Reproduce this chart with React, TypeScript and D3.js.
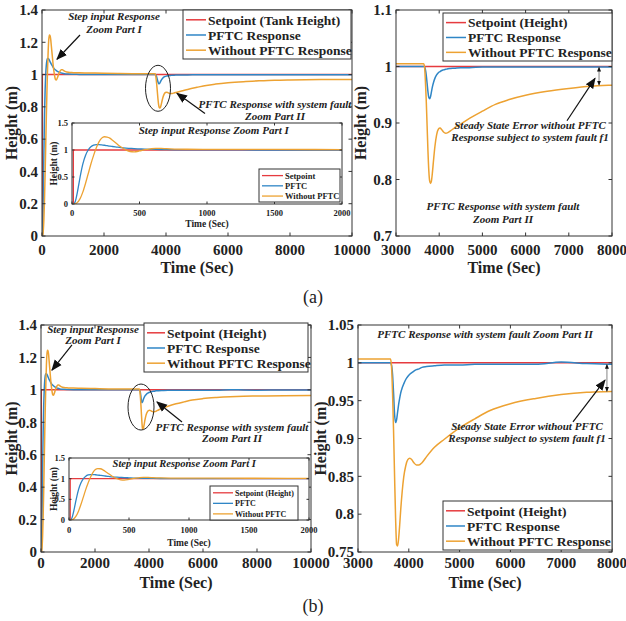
import React from 'react';
import * as d3 from 'd3';

const FONT = "'Liberation Serif', 'Times New Roman', Times, serif";
const RED = '#e63b3f';
const BLUE = '#2f86c6';
const ORANGE = '#eda232';

// start-up response, same in (a) and (b)
const timeStart = [0, 10, 20, 30, 40, 50, 60, 80, 100, 120, 140, 160, 180, 200, 220, 240, 260, 280, 300, 330,
  360, 400, 430, 460, 500, 540, 580, 620, 660, 700, 760, 850, 1000, 1200, 1500, 2000, 2500, 3000, 3500];
const pftcStart = [0, 0, 0.02, 0.1, 0.22, 0.36, 0.5, 0.74, 0.9, 1.0, 1.06, 1.09, 1.1, 1.1, 1.095, 1.088, 1.08, 1.072, 1.065, 1.055,
  1.045, 1.035, 1.03, 1.025, 1.02, 1.015, 1.012, 1.01, 1.008, 1.006, 1.004, 1.003, 1.002, 1.001, 1.0, 1.0, 1.0, 1.0, 1.0];
const noPftcStart = [0, 0, 0, 0.01, 0.03, 0.06, 0.1, 0.22, 0.38, 0.56, 0.74, 0.9, 1.04, 1.15, 1.22, 1.245, 1.24, 1.22, 1.18, 1.12,
  1.06, 1.0, 0.972, 0.966, 0.982, 1.005, 1.02, 1.03, 1.03, 1.024, 1.018, 1.014, 1.012, 1.011, 1.01, 1.008, 1.006, 1.005, 1.005];

// system fault part
const timeFault = [3640, 3660, 3680, 3700, 3720, 3740, 3760, 3780, 3800, 3820, 3840, 3870, 3900, 3940, 3980, 4020, 4060, 4100, 4150, 4200,
  4260, 4350, 4500, 4700, 5000, 5300, 5600, 6000, 6500, 7000, 7500, 8000, 9000, 10000];
const pftcFaultA = [1.0, 1.0, 0.995, 0.985, 0.97, 0.955, 0.945, 0.943, 0.947, 0.955, 0.963, 0.972, 0.979, 0.985, 0.989, 0.991, 0.993, 0.994, 0.995, 0.996,
  0.9965, 0.997, 0.998, 0.998, 0.999, 0.999, 0.999, 0.999, 0.999, 0.999, 0.999, 0.999, 0.999, 0.999];
const noPftcFaultA = [1.005, 1.0, 0.975, 0.94, 0.895, 0.85, 0.815, 0.797, 0.793, 0.797, 0.81, 0.835, 0.858, 0.879, 0.889, 0.891, 0.888, 0.884, 0.882, 0.883,
  0.886, 0.891, 0.898, 0.908, 0.921, 0.933, 0.941, 0.949, 0.956, 0.961, 0.965, 0.967, 0.969, 0.97];
const pftcFaultB = [1.0, 0.997, 0.985, 0.96, 0.932, 0.921, 0.925, 0.935, 0.945, 0.953, 0.96, 0.967, 0.972, 0.978, 0.982, 0.985, 0.987, 0.989, 0.991, 0.992,
  0.994, 0.995, 0.996, 0.997, 0.997, 0.998, 0.998, 0.998, 0.998, 1.001, 0.999, 0.998, 0.999, 0.999];
const noPftcFaultB = [1.005, 0.995, 0.96, 0.91, 0.85, 0.795, 0.76, 0.758, 0.768, 0.785, 0.805, 0.83, 0.849, 0.864, 0.872, 0.874, 0.872, 0.868, 0.865, 0.865,
  0.868, 0.876, 0.888, 0.899, 0.914, 0.926, 0.937, 0.946, 0.953, 0.958, 0.961, 0.962, 0.964, 0.965];

const setTime = [0, 10, 10, 10000];
const setValue = [0, 0, 1, 1];

const mainXTicks = [0, 2000, 4000, 6000, 8000, 10000];
const mainYTicks = [0, 0.2, 0.4, 0.6, 0.8, 1, 1.2, 1.4];
const insetXTicks = [0, 500, 1000, 1500, 2000];
const insetYTicks = [0, 0.5, 1, 1.5];
const zoomXTicks = [3000, 4000, 5000, 6000, 7000, 8000];
const zoomYTicksA = [0.7, 0.8, 0.9, 1, 1.1];
const zoomYTicksB = [0.75, 0.8, 0.85, 0.9, 0.95, 1, 1.05];

const legendTankA = ['Setpoint (Tank Height)', 'PFTC Response', 'Without PFTC Response'];
const legendHeight = ['Setpoint (Height)', 'PFTC Response', 'Without PFTC Response'];
const legendInsetA = ['Setpoint', 'PFTC', 'Without PFTC'];
const legendInsetB = ['Setpoint (Height)', 'PFTC', 'Without PFTC'];
const colors = [RED, BLUE, ORANGE];

const fmt = d3.format('~g');

type Scale = d3.ScaleLinear<number, number>;
type Series = { t: number[]; v: number[]; color: string; step?: boolean };

function seriesFor(pftcFault: number[], noPftcFault: number[]): Series[] {
  return [
    { t: setTime, v: setValue, color: RED, step: true },
    { t: timeStart.concat(timeFault), v: pftcStart.concat(pftcFault), color: BLUE },
    { t: timeStart.concat(timeFault), v: noPftcStart.concat(noPftcFault), color: ORANGE },
  ];
}

const txt = { fontFamily: FONT };

function Axes(p: {
  id: string; x: Scale; y: Scale; xTicks: number[]; yTicks: number[]; lines: Series[];
  fs: number; tickLen: number; lw: number; xGap: number; yGap: number;
  xTitleY: number; yTitleX: number; titleFs: number;
}) {
  const [x0, x1] = p.x.range();
  const [y1, y0] = p.y.range();
  return (
    <g>
      <defs>
        <clipPath id={p.id}>
          <rect x={x0} y={y0} width={x1 - x0} height={y1 - y0} />
        </clipPath>
      </defs>
      <rect x={x0} y={y0} width={x1 - x0} height={y1 - y0} fill="white" />
      <g clipPath={`url(#${p.id})`}>
        {p.lines.map((s, i) => {
          const gen = d3.line<number>()
            .x((_, j) => p.x(s.t[j]))
            .y(d => p.y(d))
            .curve(s.step ? d3.curveLinear : d3.curveMonotoneX);
          return <path key={i} d={gen(s.v) || ''} fill="none" stroke={s.color} strokeWidth={p.lw} />;
        })}
      </g>
      {p.xTicks.map(t => (
        <g key={'x' + t}>
          <line x1={p.x(t)} x2={p.x(t)} y1={y1} y2={y1 - p.tickLen} stroke="#333" />
          <line x1={p.x(t)} x2={p.x(t)} y1={y0} y2={y0 + p.tickLen} stroke="#333" />
          <text style={txt} x={p.x(t)} y={y1 + p.xGap} textAnchor="middle" fontSize={p.fs} fontWeight="bold" fill="#222">{fmt(t)}</text>
        </g>
      ))}
      {p.yTicks.map(t => (
        <g key={'y' + t}>
          <line x1={x0} x2={x0 + p.tickLen} y1={p.y(t)} y2={p.y(t)} stroke="#333" />
          <line x1={x1} x2={x1 - p.tickLen} y1={p.y(t)} y2={p.y(t)} stroke="#333" />
          <text style={txt} x={x0 - p.yGap} y={p.y(t)} dy="0.35em" textAnchor="end" fontSize={p.fs} fontWeight="bold" fill="#222">{fmt(t)}</text>
        </g>
      ))}
      <rect x={x0} y={y0} width={x1 - x0} height={y1 - y0} fill="none" stroke="#333" strokeWidth={1} />
      <text style={txt} x={(x0 + x1) / 2} y={p.xTitleY} textAnchor="middle" fontSize={p.titleFs} fontWeight="bold" fill="#222">Time (Sec)</text>
      <text style={txt} transform={`translate(${p.yTitleX},${(y0 + y1) / 2}) rotate(-90)`} textAnchor="middle" fontSize={p.titleFs} fontWeight="bold" fill="#222">Height (m)</text>
    </g>
  );
}

function Legend(p: { x: number; y: number; w: number; h: number; labels: string[]; fs: number; lineW: number; lw: number }) {
  return (
    <g>
      <rect x={p.x} y={p.y} width={p.w} height={p.h} fill="white" stroke="#333" strokeWidth={1} />
      {p.labels.map((l, i) => {
        const cy = p.y + p.h * (0.2 + 0.31 * i);
        return (
          <g key={l}>
            <line x1={p.x + 3} x2={p.x + 3 + p.lineW} y1={cy} y2={cy} stroke={colors[i]} strokeWidth={p.lw} />
            <text style={txt} x={p.x + 5 + p.lineW} y={cy} dy="0.35em" fontSize={p.fs} fontWeight="bold" fill="#222">{l}</text>
          </g>
        );
      })}
    </g>
  );
}

function Note({ x, y, lines, fs = 11, gap = 12 }: { x: number; y: number; lines: string[]; fs?: number; gap?: number }) {
  return (
    <text style={txt} x={x} y={y} textAnchor="middle" fontSize={fs} fontWeight="bold" fontStyle="italic" fill="#222">
      {lines.map((l, i) => <tspan key={i} x={x} dy={i === 0 ? '0.35em' : gap}>{l}</tspan>)}
    </text>
  );
}

function Arrow({ x1, y1, x2, y2 }: { x1: number; y1: number; x2: number; y2: number }) {
  return <line x1={x1} y1={y1} x2={x2} y2={y2} stroke="#111" strokeWidth={1.2} markerEnd="url(#ah)" />;
}

function DoubleArrow({ x, ya, yb }: { x: number; ya: number; yb: number }) {
  return <line x1={x} x2={x} y1={ya} y2={yb} stroke="#999" strokeWidth={1.2} markerStart="url(#ahs)" markerEnd="url(#ahs)" />;
}

export default function App() {
  const linesA = seriesFor(pftcFaultA, noPftcFaultA);
  const linesB = seriesFor(pftcFaultB, noPftcFaultB);

  // (a)
  const xAL = d3.scaleLinear().domain([0, 10000]).range([42, 352]);
  const yAL = d3.scaleLinear().domain([0, 1.4]).range([236, 10]);
  const xAI = d3.scaleLinear().domain([0, 2000]).range([72, 342]);
  const yAI = d3.scaleLinear().domain([0, 1.5]).range([204, 123]);
  const xAR = d3.scaleLinear().domain([3000, 8000]).range([396, 612]);
  const yAR = d3.scaleLinear().domain([0.7, 1.1]).range([236, 10]);
  // (b)
  const xBL = d3.scaleLinear().domain([0, 10000]).range([41, 311]);
  const yBL = d3.scaleLinear().domain([0, 1.4]).range([552, 325]);
  const xBI = d3.scaleLinear().domain([0, 2000]).range([69, 309]);
  const yBI = d3.scaleLinear().domain([0, 1.5]).range([520, 458]);
  const xBR = d3.scaleLinear().domain([3000, 8000]).range([358, 612]);
  const yBR = d3.scaleLinear().domain([0.75, 1.05]).range([552, 325]);

  const main = { fs: 15, tickLen: 3.5, lw: 1.5, titleFs: 16 };
  const inset = { fs: 8.5, tickLen: 2.5, lw: 1.3, titleFs: 9.5 };

  return (
    <svg width={626} height={621} style={{ position: 'absolute', left: 0, top: 0, background: 'white', fontFamily: FONT }}>
      <defs>
        <marker id="ah" viewBox="0 0 10 10" refX="9" refY="5" markerWidth="11" markerHeight="11" markerUnits="userSpaceOnUse" orient="auto">
          <path d="M0,1 L10,5 L0,9 z" fill="#111" />
        </marker>
        <marker id="ahs" viewBox="0 0 10 10" refX="9" refY="5" markerWidth="5" markerHeight="5" markerUnits="userSpaceOnUse" orient="auto-start-reverse">
          <path d="M0,1 L10,5 L0,9 z" fill="#111" />
        </marker>
      </defs>

      {/* (a) left */}
      <Axes id="cal" x={xAL} y={yAL} xTicks={mainXTicks} yTicks={mainYTicks} lines={linesA} {...main} xGap={19} yGap={4} xTitleY={273} yTitleX={17} />
      <Legend x={183} y={10} w={168} h={49} labels={legendTankA} fs={13.5} lineW={20} lw={1.5} />
      <Note x={xAL(2323)} y={yAL(1.363)} lines={['Step input Response', 'Zoom Part I']} gap={13} />
      <Arrow x1={xAL(1226)} y1={yAL(1.245)} x2={xAL(484)} y2={yAL(1.095)} />
      <ellipse cx={xAL(3742)} cy={yAL(0.915)} rx={12.5} ry={23} fill="none" stroke="#222" strokeWidth={1} />
      <Note x={xAL(7516)} y={yAL(0.815)} lines={['PFTC Response with system fault', 'Zoom Part II']} />
      <Arrow x1={xAL(5258)} y1={yAL(0.759)} x2={xAL(4355)} y2={yAL(0.884)} />
      <Axes id="cai" x={xAI} y={yAI} xTicks={insetXTicks} yTicks={insetYTicks} lines={linesA} {...inset} xGap={12} yGap={4} xTitleY={227} yTitleX={57} />
      <Note x={xAI(1050)} y={yAI(1.37)} lines={['Step input Response Zoom Part I']} fs={11} />
      <Legend x={259} y={169} w={81} h={33} labels={legendInsetA} fs={8.5} lineW={21} lw={1.3} />

      {/* (a) right */}
      <Axes id="car" x={xAR} y={yAR} xTicks={zoomXTicks} yTicks={zoomYTicksA} lines={linesA} {...main} xGap={19} yGap={4} xTitleY={273} yTitleX={366} />
      <Legend x={443} y={13} w={169} h={48} labels={legendHeight} fs={13.5} lineW={20} lw={1.5} />
      <Note x={xAR(6102)} y={yAR(0.8956)} lines={['Steady State Error without PFTC', 'Response subject to system fault f1']} />
      <Arrow x1={xAR(6958)} y1={yAR(0.904)} x2={xAR(7606)} y2={yAR(0.979)} />
      <DoubleArrow x={xAR(7700)} ya={yAR(0.999)} yb={yAR(0.967)} />
      <Note x={xAR(5477)} y={yAR(0.7533)} lines={['PFTC Response with system fault', 'Zoom Part II']} gap={13} />

      <text style={txt} x={313} y={303} textAnchor="middle" fontSize={18} fill="#222">(a)</text>

      {/* (b) left */}
      <Axes id="cbl" x={xBL} y={yBL} xTicks={mainXTicks} yTicks={mainYTicks} lines={linesB} {...main} xGap={16} yGap={4} xTitleY={588} yTitleX={17} />
      <Legend x={144} y={323} w={164} h={49} labels={legendHeight} fs={13.5} lineW={18} lw={1.5} />
      <Note x={xBL(1926)} y={yBL(1.375)} lines={['Step input Response', 'Zoom Part I']} gap={11} />
      <Arrow x1={xBL(1148)} y1={yBL(1.277)} x2={xBL(407)} y2={yBL(1.122)} />
      <ellipse cx={xBL(3704)} cy={yBL(0.894)} rx={13} ry={23} fill="none" stroke="#222" strokeWidth={1} />
      <Note x={xBL(7074)} y={yBL(0.771)} lines={['PFTC Response with system fault', 'Zoom Part II']} gap={11} />
      <Arrow x1={xBL(5222)} y1={yBL(0.802)} x2={xBL(4296)} y2={yBL(0.925)} />
      <Axes id="cbi" x={xBI} y={yBI} xTicks={insetXTicks} yTicks={insetYTicks} lines={linesB} {...inset} xGap={13} yGap={4} xTitleY={546} yTitleX={57} />
      <Note x={xBI(960)} y={yBI(1.37)} lines={['Step input Response Zoom Part I']} fs={10.5} />
      <Legend x={210} y={486} w={88} h={34} labels={legendInsetB} fs={8} lineW={20} lw={1.3} />

      {/* (b) right */}
      <Axes id="cbr" x={xBR} y={yBR} xTicks={zoomXTicks} yTicks={zoomYTicksB} lines={linesB} {...main} xGap={16} yGap={4} xTitleY={588} yTitleX={326} />
      <Note x={xBR(5500)} y={yBR(1.038)} lines={['PFTC Response with system fault Zoom Part II']} />
      <Legend x={443} y={501} w={169} h={49} labels={legendHeight} fs={13.5} lineW={19} lw={1.5} />
      <Note x={xBR(6327)} y={yBR(0.9165)} lines={['Steady State Error without PFTC', 'Response subject to system fault f1']} />
      <Arrow x1={xBR(7232)} y1={yBR(0.922)} x2={xBR(7862)} y2={yBR(0.977)} />
      <DoubleArrow x={xBR(7900)} ya={yBR(0.998)} yb={yBR(0.962)} />

      <text style={txt} x={313} y={612} textAnchor="middle" fontSize={18} fill="#222">(b)</text>
    </svg>
  );
}
